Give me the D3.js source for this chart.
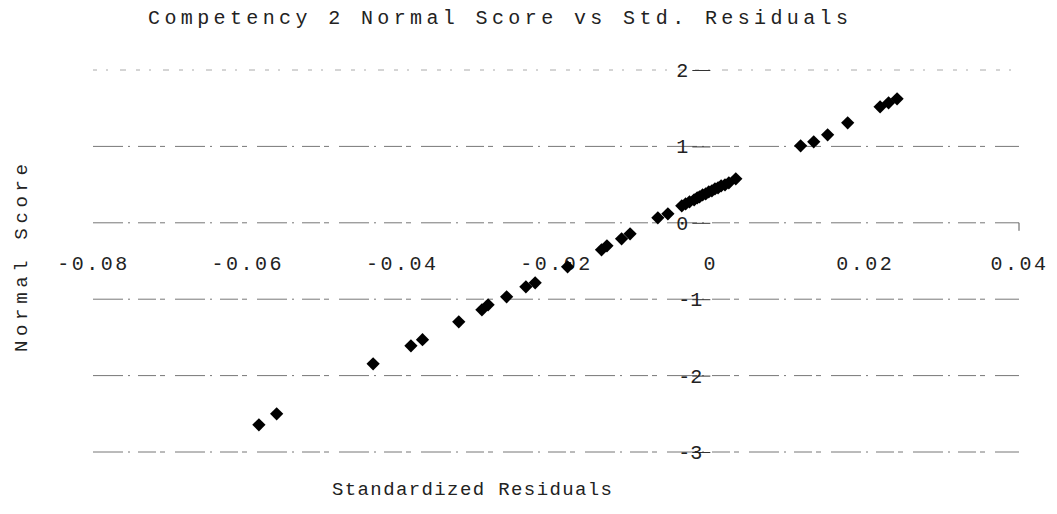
<!DOCTYPE html>
<html>
<head>
<meta charset="utf-8">
<script src="https://cdn.jsdelivr.net/npm/d3@7"></script>
<style>
  html, body { margin: 0; padding: 0; background: #fff; }
  svg { display: block; }
  text { font-family: "Liberation Mono", "DejaVu Sans Mono", monospace; fill: #222; }
</style>
</head>
<body>
<svg id="chart" width="1057" height="514"></svg>
<script>
// Standardized residuals (x) against their normal scores (y)
const residuals = [
  -0.0585, -0.0562, -0.0437, -0.0388, -0.0373, -0.0326, -0.0296, -0.0288,
  -0.0264, -0.0239, -0.0227, -0.0185, -0.0141, -0.0134, -0.0115, -0.0104,
  -0.0068, -0.0055,
  -0.0037, -0.0032, -0.0027, -0.0021, -0.0017, -0.0014, -0.0010, -0.0006,
  -0.0002, 0.0002, 0.0006, 0.0010, 0.0014, 0.0019, 0.0024, 0.0033,
  0.0117, 0.0134, 0.0152, 0.0178, 0.0220, 0.0231, 0.0242
];
const normalScores = [
  -2.644, -2.500, -1.846, -1.610, -1.530, -1.296, -1.139, -1.073,
  -0.969, -0.838, -0.785, -0.576, -0.353, -0.301, -0.209, -0.144,
  0.065, 0.118,
  0.222, 0.249, 0.275, 0.301, 0.327, 0.340, 0.366, 0.380,
  0.406, 0.419, 0.445, 0.458, 0.484, 0.497, 0.524, 0.576,
  1.008, 1.060, 1.152, 1.309, 1.518, 1.571, 1.623
];

const xTicks = [-0.08, -0.06, -0.04, -0.02, 0, 0.02, 0.04];
const xTickLabels = ["-0.08", "-0.06", "-0.04", "-0.02", "0", "0.02", "0.04"];
const yTicks = [2, 1, 0, -1, -2, -3];
const yTickLabels = ["2", "1", "0", "-1", "-2", "-3"];

const titleText = "Competency 2 Normal Score vs Std. Residuals";
const xTitle = "Standardized Residuals";
const yTitle = "Normal Score";

const svg = d3.select("#chart");

const x = d3.scaleLinear().domain([-0.08, 0.04]).range([93, 1019]);
const y = d3.scaleLinear().domain([-3, 2]).range([452, 70]);

// horizontal gridlines, broken dash pattern
svg.append("g")
  .selectAll("line")
  .data(yTicks)
  .join("line")
  .attr("x1", x(-0.08))
  .attr("x2", x(0.04))
  .attr("y1", d => y(d))
  .attr("y2", d => y(d))
  .attr("stroke", d => d === 2 ? "#aaa" : "#777")
  .attr("stroke-width", 1)
  .attr("stroke-dasharray", d => d === 2 ? "4,9,2,12,6,10" : "30,5,2,8,18,4,5,10");

// small end mark on the zero line
svg.append("line")
  .attr("x1", x(0.04)).attr("x2", x(0.04))
  .attr("y1", y(0)).attr("y2", y(0) + 8)
  .attr("stroke", "#555");

// x tick labels, set below the zero line
const xAxis = d3.axisBottom(x)
  .tickValues(xTicks)
  .tickFormat((d, i) => xTickLabels[i])
  .tickSize(0)
  .tickPadding(0);
const gx = svg.append("g")
  .attr("transform", `translate(0,${y(0) + 33})`)
  .call(xAxis);
gx.select(".domain").remove();
gx.selectAll("text")
  .attr("font-size", 20)
  .attr("letter-spacing", 2.5)
  .attr("fill", "#333")
  .style("font-family", "'Liberation Mono', monospace");

// y axis at x = 0 with short ticks
const yAxis = d3.axisLeft(y)
  .tickValues(yTicks)
  .tickFormat((d, i) => yTickLabels[i])
  .tickSize(18)
  .tickPadding(4);
const gy = svg.append("g")
  .attr("transform", `translate(${x(0)},0)`)
  .call(yAxis);
gy.select(".domain").remove();
gy.selectAll(".tick line").attr("stroke", "#333");
gy.selectAll("text")
  .attr("font-size", 20)
  .attr("fill", "#222")
  .attr("dx", d => d < 0 ? 14 : 0)
  .style("font-family", "'Liberation Mono', monospace");

// data points as diamonds
const diamond = d3.symbol().type(d3.symbolSquare).size(88);
svg.append("g")
  .selectAll("path")
  .data(residuals.map((r, i) => [r, normalScores[i]]))
  .join("path")
  .attr("d", diamond)
  .attr("transform", d => `translate(${x(d[0])},${y(d[1])}) rotate(45)`)
  .attr("fill", "#000");

// titles
svg.append("text")
  .attr("x", 148).attr("y", 24)
  .attr("font-size", 20)
  .attr("fill", "#333")
  .attr("textLength", 700)
  .attr("lengthAdjust", "spacing")
  .text(titleText);

svg.append("text")
  .attr("x", 332).attr("y", 495)
  .attr("font-size", 19)
  .attr("fill", "#222")
  .attr("textLength", 280)
  .attr("lengthAdjust", "spacing")
  .text(xTitle);

svg.append("text")
  .attr("transform", "translate(27,352) rotate(-90)")
  .attr("font-size", 19)
  .attr("fill", "#222")
  .attr("textLength", 188)
  .attr("lengthAdjust", "spacing")
  .text(yTitle);
</script>
</body>
</html>
